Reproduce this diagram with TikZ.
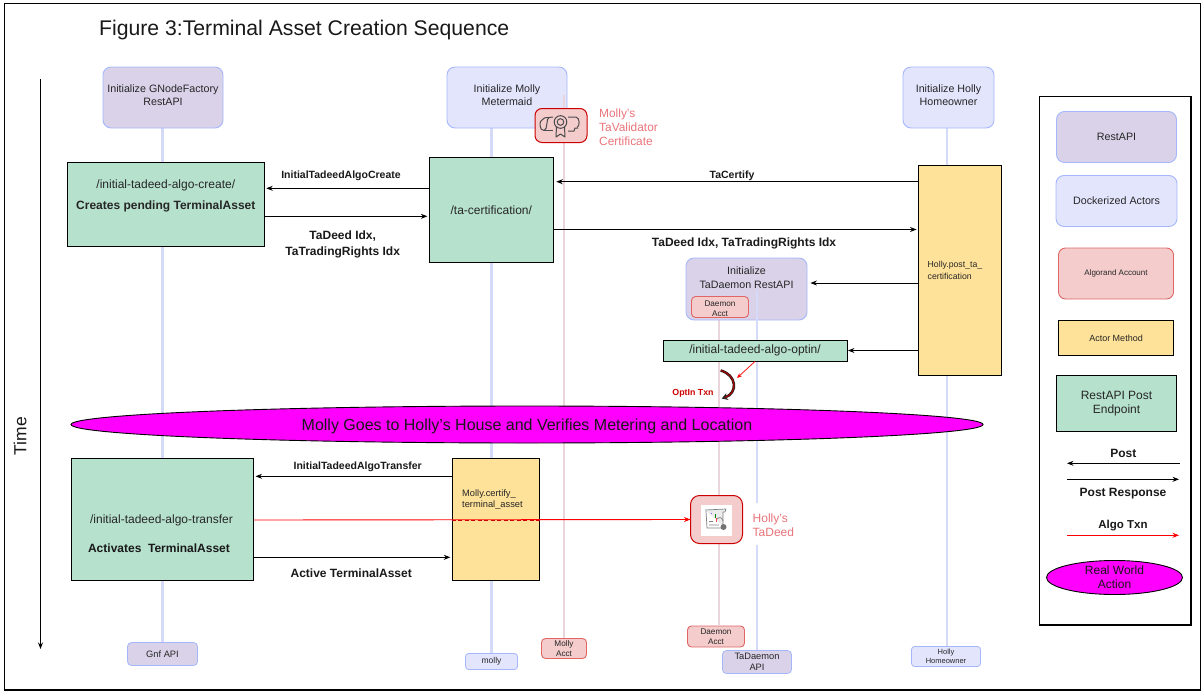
\documentclass[tikz,border=0pt]{standalone}
\usepackage{fontspec}
\setmainfont{Liberation Sans}
\usetikzlibrary{arrows.meta,shapes.geometric}
\definecolor{apifill}{HTML}{D9D2E9}
\definecolor{actorfill}{HTML}{E3E5FD}
\definecolor{blueedge}{HTML}{A4B7FB}
\definecolor{lifeblue}{HTML}{D4DAF8}
\definecolor{lifepink}{HTML}{EAD5DC}
\definecolor{acctfill}{HTML}{F4CCCC}
\definecolor{acctedge}{HTML}{E06666}
\definecolor{iconedge}{HTML}{CC0000}
\definecolor{labelred}{HTML}{E8747A}
\definecolor{endpoint}{HTML}{B6E1CD}
\definecolor{method}{HTML}{FFE299}
\definecolor{magentaf}{HTML}{FF00FF}
\definecolor{txnred}{HTML}{FF0000}
\tikzset{
  x=1pt,y=-1pt,
  rbox/.style={rounded corners=#1,draw,align=center,inner sep=0pt,text=black!85},
  rbox/.default=8pt,
  api/.style={rbox=8pt,fill=apifill,draw=blueedge,line width=0.9pt,font=\fontsize{10.7}{13.5}\selectfont},
  actor/.style={rbox=8pt,fill=actorfill,draw=blueedge,line width=0.9pt,font=\fontsize{10.7}{13.5}\selectfont},
  acct/.style={rbox=4pt,fill=acctfill,draw=acctedge,line width=0.9pt,font=\fontsize{8.2}{10}\selectfont},
  smallapi/.style={rbox=4pt,fill=apifill,draw=blueedge,line width=0.8pt,font=\fontsize{9.3}{11}\selectfont},
  smallactor/.style={rbox=3pt,fill=actorfill,draw=blueedge,line width=0.8pt,font=\fontsize{8.5}{11}\selectfont},
  endp/.style={draw=black,fill=endpoint,line width=0.9pt,align=center,inner sep=0pt,text=black!85,font=\fontsize{12}{15}\selectfont},
  meth/.style={draw=black,fill=method,line width=0.9pt,align=left,inner sep=0pt,text=black!85,font=\fontsize{9}{12}\selectfont},
  methtext/.style={anchor=west,align=left,inner sep=0pt,text=black!85,font=\fontsize{9.3}{11.5}\selectfont},
  iconbox/.style={rbox=7pt,fill=acctfill,draw=iconedge,line width=1pt},
  lifeb/.style={draw=lifeblue,line width=2.2pt},
  lifep/.style={draw=lifepink,line width=2.2pt},
  arr/.style={draw=black,line width=0.9pt,shorten >=1.5pt,-{Stealth[length=6.5pt,width=5pt]}},
  txn/.style={draw=txnred,line width=0.9pt,-{Stealth[length=6.5pt,width=5pt]}},
  lab/.style={font=\fontsize{12}{16}\bfseries\selectfont,align=center,inner sep=0pt,text=black!90},
  labsm/.style={lab,font=\fontsize{10.5}{15}\bfseries\selectfont},
  redlab/.style={font=\fontsize{11.9}{14}\selectfont,align=left,inner sep=0pt,text=labelred},
  icon/.style={draw=black!70,line width=1pt,line join=round},
}
\begin{document}
\begin{tikzpicture}
\useasboundingbox (0,0) rectangle (1202,696);
\draw[line width=1.1pt] (4.5,3.5) rectangle (1200.7,690);
\node[anchor=west,inner sep=0pt,font=\fontsize{21.2}{25}\selectfont,text=black!90] (title) at (99,30.5) {Figure 3:Terminal Asset Creation Sequence};

% time axis
\coordinate (timetop) at (40.5,79);
\coordinate (timebot) at (40.5,649);
\draw[arr,shorten >=0pt] (timetop) -- (timebot);
\node[rotate=90,inner sep=0pt,font=\fontsize{17.5}{20}\selectfont,text=black!90] (time) at (20,436) {Time};

% bottom lifeline ends
\node[smallapi,minimum width=70,minimum height=23] (gnfb) at (162.5,654) {Gnf API};
\node[smallactor,minimum width=52,minimum height=16] (mollyb) at (491.5,661.5) {molly};
\node[acct,minimum width=45,minimum height=20] (macctb) at (564,648.5) {Molly\\Acct};
\node[acct,minimum width=57,minimum height=21] (dacctb) at (716,636.5) {Daemon\\Acct};
\node[smallapi,minimum width=69,minimum height=23] (tdb) at (757,662) {TaDaemon\\API};
\node[smallactor,minimum width=69,minimum height=20,font=\fontsize{7.5}{9.5}\selectfont] (hollyb) at (946,656.5) {Holly\\Homeowner};

% top heads (geometry only needed for the lifelines)
\coordinate (mollypink) at (564,95);
\coordinate (hollyt) at (947,128);
\coordinate (gnft) at (162.5,128);
\coordinate (mollyt) at (491.5,128);
\coordinate (dtop) at (719,318);
\coordinate (ttop) at (757,290);

% lifelines
\draw[lifeb] (gnft) -- (gnfb.north);
\draw[lifeb] (mollyt) -- (mollyb.north);
\draw[lifep] (mollypink) -- (macctb.north);
\draw[lifep] (dtop) -- (dacctb.north -| dtop);
\draw[lifeb] (hollyt) -- (hollyb.north -| hollyt);

% heads
\node[api,minimum width=120,minimum height=61,text depth=5pt] (gnf) at (163,97.5) {Initialize GNodeFactory\\RestAPI};
\node[actor,minimum width=120,minimum height=61,text depth=5pt] (molly) at (507,97.5) {Initialize Molly\\Metermaid};
\node[actor,minimum width=91,minimum height=61,text depth=5pt] (holly) at (948.5,97.5) {Initialize Holly\\Homeowner};
\draw[lifep] (mollypink) -- (564,108);
\node[api,minimum width=121,minimum height=62,text depth=23pt] (td) at (746.5,289) {Initialize\\TaDaemon RestAPI};
\draw[lifeb] (ttop) -- (tdb.north -| ttop);
\node[acct,minimum width=57,minimum height=21,text height=20pt] (dacct) at (720,307) {Daemon\\Acct};

% certificate icon
\node[iconbox,minimum width=52,minimum height=34] (cert) at (561,125.5) {};
\begin{scope}[icon]
  \draw (542,120) .. controls (539,120) and (539,131) .. (544,130.5) .. controls (548,130) and (546,118) .. (549,117.5) -- (553,117);
  \draw (542,120) .. controls (543,118) and (546,117) .. (549,117.5);
  \draw (568,117) -- (576,117) .. controls (580,118) and (580,126) .. (577,127.5);
  \draw (544,130.5) -- (553,130.5);
  \draw (568,131) -- (574,131) -- (575,128) -- (578,128);
  \draw (560.5,122) circle (6.3);
  \draw (560.5,122) circle (3.3);
  \draw (556.5,127) -- (556,137) -- (560.5,134) -- (565,137) -- (564.5,127);
\end{scope}
\node[redlab,anchor=north west] (certl) at (599,108.7) {Molly’s\\TaValidator\\Certificate};

% endpoints
\node[endp,minimum width=197,minimum height=84,text depth=20pt] (create) at (165.8,204.7) {/initial-tadeed-algo-create/\\[6pt]\textbf{Creates pending TerminalAsset}};
\node[endp,minimum width=124,minimum height=105] (cert2) at (491.3,209.8) {/ta-certification/};
\node[meth,minimum width=83,minimum height=210] (hpost) at (960,270.5) {};
\node[methtext,font=\fontsize{8.7}{12}\selectfont] (hpostl) at (927.5,270) {Holly.post\_ta\_\\certification};
\node[endp,minimum width=184,minimum height=21] (optin) at (755,350.5) {/initial-tadeed-algo-optin/};

% arrows upper
\draw[arr] (cert2.west |- 0,188.3) -- (create.east |- 0,188.3);
\node[labsm] (l1) at (341,175.5) {InitialTadeedAlgoCreate};
\draw[arr] (create.east |- 0,216.3) -- (cert2.west |- 0,216.3);
\node[lab] (l2) at (342.7,244) {TaDeed Idx,\\TaTradingRights Idx};
\draw[arr,shorten >=2.5pt] (hpost.west |- 0,181.7) -- (cert2.east |- 0,181.7);
\node[labsm] (l3) at (732,175.5) {TaCertify};
\draw[arr] (cert2.east |- 0,229.5) -- (hpost.west |- 0,229.5);
\node[lab] (l4) at (744,243) {TaDeed Idx, TaTradingRights Idx};
\draw[arr,shorten >=3pt] (hpost.west |- 0,283) -- (td.east |- 0,283);
\draw[arr,shorten >=0.5pt] (hpost.west |- 0,350.5) -- (optin.east |- 0,350.5);

% opt-in
\coordinate (oa) at (720.7,370.5);
\coordinate (ob) at (721.7,398.5);
\draw[line width=2.6pt,draw=black!85,-{Stealth[length=6pt,width=7pt]}] (oa) .. controls (737,375) and (738,393) .. (ob);
\draw[line width=1.2pt,draw=iconedge!80!black] (oa) .. controls (737,375) and (738,393) .. (725,397.5);
\draw[txn,line width=0.7pt,-{Stealth[length=5pt,width=4pt]}] (optin.south -| 755,361) -- (737,378);
\node[inner sep=0pt,font=\fontsize{8.8}{11}\bfseries\selectfont,text=iconedge] (ol) at (693,393.5) {OptIn Txn};

% ellipse
\node[ellipse,draw=black,fill=magentaf,line width=0.9pt,minimum width=912,minimum height=37,inner sep=0pt,text height=15pt,font=\fontsize{16}{19}\selectfont,text=black!90] (world) at (527,424.5) {Molly Goes to Holly’s House and Verifies Metering and Location};

% lower
\node[endp,minimum width=182.5,minimum height=122] (transfer) at (162.3,519.2) {};
\node[inner sep=0pt,text=black!85,font=\fontsize{12}{15}\selectfont] (t1) at (161.5,520.5) {/initial-tadeed-algo-transfer};
\node[lab] (t2) at (159,548) {Activates \ TerminalAsset};
\node[meth,minimum width=87.5,minimum height=122] (mpost) at (496,519.2) {};
\node[methtext] (mpostl) at (462,499.5) {Molly.certify\_\\terminal\_asset};
\draw[arr] (mpost.west |- 0,476.3) -- (transfer.east |- 0,476.3);
\node[labsm] (l5) at (357.7,467.3) {InitialTadeedAlgoTransfer};
\draw[arr] (transfer.east |- 0,557.3) -- (mpost.west |- 0,557.3);
\node[lab] (l6) at (351.2,573) {Active TerminalAsset};

% deed
\node[fill=white,inner sep=0pt,minimum width=45,minimum height=42] (deedmask) at (776,524) {};
\node[iconbox,rbox=9pt,minimum width=52,minimum height=48] (deed) at (716.5,519.5) {};
\draw[txn,shorten >=-0.5pt] (transfer.east |- 0,520) -- (deed.west);
\draw[draw=txnred!80!black,line width=0.9pt,dash pattern=on 4pt off 2.5pt] (mpost.west |- 0,520) -- (mpost.east |- 0,520);
\node[fill=white,inner sep=0pt,minimum size=31] (deedimg) at (716,520) {};
\begin{scope}[icon,draw=black!50,line width=0.7pt]
  \draw[fill=black!8] (705,510) -- (726,509) -- (725,512) -- (723,512) -- (723,526) ;
  \draw (706,511) -- (707,528) -- (721,528);
  \draw[blue!60,line width=1pt] (711,513) -- (712,513);
  \draw[green!50!black,line width=1pt] (715,514) -- (715,518);
  \draw[red!70,line width=1pt] (716,518) -- (716,522);
  \draw (709,521.5) -- (713,521.5) (709,525) -- (719,525) (717,519) .. controls (720,516) and (722,518) .. (723,521);
  \fill[black!55] (723.5,527) circle (3);
\end{scope}
\node[redlab,anchor=north west,font=\fontsize{12}{13.7}\selectfont] (deedl) at (752.5,513.5) {Holly’s\\TaDeed};

% legend
\draw[line width=1.1pt] (1039.5,96.5) rectangle (1191,625);
\node[api,minimum width=120,minimum height=51] (lapi) at (1116.5,137) {RestAPI};
\node[actor,minimum width=121,minimum height=51] (lact) at (1116.5,201) {Dockerized Actors};
\node[acct,rbox=7pt,minimum width=115,minimum height=51,font=\fontsize{8}{10}\selectfont] (lacct) at (1116,273.5) {Algorand Account};
\node[meth,align=center,minimum width=115,minimum height=35] (lmeth) at (1116,338) {Actor Method};
\node[endp,minimum width=120,minimum height=56,font=\fontsize{12}{14}\selectfont] (lend) at (1116.5,403.5) {RestAPI Post\\Endpoint};
\coordinate (p1) at (1180,463.3);
\coordinate (p2) at (1067,463.3);
\coordinate (p3) at (1067,479.3);
\coordinate (p4) at (1179,479.3);
\coordinate (p5) at (1067,535.3);
\coordinate (p6) at (1179,535.3);
\draw[arr,shorten >=0pt] (p1) -- (p2);
\draw[arr,shorten >=0pt] (p3) -- (p4);
\draw[txn] (p5) -- (p6);
\node[lab] (ll1) at (1123.3,453) {Post};
\node[lab] (ll2) at (1123,493.5) {Post Response};
\node[lab,font=\fontsize{11.5}{15}\bfseries\selectfont] (ll3) at (1123,525.5) {Algo Txn};
\node[ellipse,draw=black,fill=magentaf,line width=0.9pt,minimum width=136,minimum height=34,inner sep=0pt,align=center,font=\fontsize{12}{14}\selectfont,text=black!90] (lreal) at (1114.5,577.5) {Real World\\Action};
\end{tikzpicture}
\end{document}
